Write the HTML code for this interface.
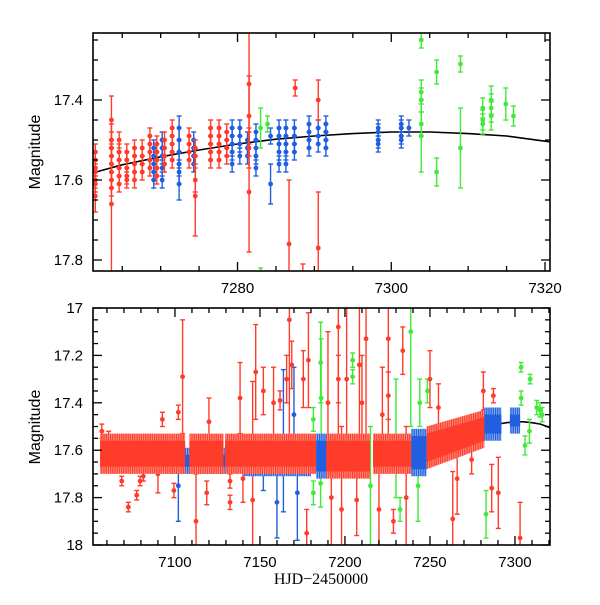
<!DOCTYPE html>
<html><head><meta charset="utf-8"><style>
html,body{margin:0;padding:0;background:#fff;}
svg text{font-family:"Liberation Sans",sans-serif;}
</style></head><body>
<svg id="chart" width="600" height="600" viewBox="0 0 600 600" xmlns="http://www.w3.org/2000/svg">
<defs>
<clipPath id="clipTop"><rect x="93" y="33" width="457" height="238"/></clipPath>
<clipPath id="clipBot"><rect x="93" y="308" width="457" height="237"/></clipPath>
<pattern id="stripeR" width="2.2" height="6" patternUnits="userSpaceOnUse"><rect width="2.2" height="6" fill="#ff8f80"/><rect x="0" width="1.2" height="6" fill="#ff3b2a"/></pattern>
<pattern id="stripeB" width="2.2" height="6" patternUnits="userSpaceOnUse"><rect width="2.2" height="6" fill="#8fb0f0"/><rect x="0" width="1.2" height="6" fill="#1f5fe0"/></pattern>
<pattern id="stripeG" width="2.2" height="6" patternUnits="userSpaceOnUse"><rect width="2.2" height="6" fill="#a0f59c"/><rect x="0" width="1.2" height="6" fill="#3fea38"/></pattern>
</defs>
<g id="topPanel"></g>
<g id="botPanel"></g>
<text x="40" y="152" transform="rotate(-90 40 152)" text-anchor="middle" font-size="16">Magnitude</text>
<text x="40" y="427" transform="rotate(-90 40 427)" text-anchor="middle" font-size="16">Magnitude</text>
<text x="321" y="584" text-anchor="middle" font-size="16" style="font-family:'Liberation Serif',serif">HJD−2450000</text>
</svg>
<script>
// ---- data ----
const COLORS = {r:"#ff3b2a", b:"#1f5fe0", g:"#3fea38"};
const STRIPES = {r:"url(#stripeR)", b:"url(#stripeB)", g:"url(#stripeG)"};
// Top panel clusters: [time, colour, magnitudes, error]
const topClusters = [
 [7261.5,"r",[17.53,17.55,17.57,17.58,17.60,17.61],0.02],
 [7263.6,"r",[17.50,17.52,17.54,17.56,17.58,17.60,17.62],0.02],
 [7264.6,"r",[17.50,17.53,17.55,17.57,17.59,17.61],0.02],
 [7265.6,"r",[17.53,17.55,17.57,17.59,17.60],0.02],
 [7266.6,"r",[17.52,17.54,17.56,17.58,17.60],0.02],
 [7267.6,"r",[17.52,17.54,17.56,17.58],0.02],
 [7268.6,"r",[17.49,17.51,17.53,17.55,17.57],0.02],
 [7269.1,"b",[17.52,17.54,17.56,17.58,17.60],0.02],
 [7269.5,"r",[17.51,17.53,17.55,17.57,17.59],0.02],
 [7270.2,"b",[17.50,17.52,17.54,17.57,17.60],0.02],
 [7270.5,"r",[17.50,17.52,17.54,17.56],0.02],
 [7271.5,"r",[17.47,17.49,17.51,17.53,17.55],0.02],
 [7272.4,"b",[17.47,17.50,17.53,17.56,17.58],0.03],
 [7273.7,"r",[17.49,17.51,17.53,17.55],0.02],
 [7274.3,"b",[17.50,17.52,17.54,17.56],0.02],
 [7274.5,"r",[17.52,17.54],0.02],
 [7276.5,"r",[17.47,17.49,17.51,17.53,17.55],0.02],
 [7277.6,"r",[17.47,17.49,17.51,17.53,17.55],0.02],
 [7278.6,"r",[17.48,17.50,17.52,17.54],0.02],
 [7279.3,"b",[17.47,17.49,17.51,17.53,17.56],0.02],
 [7280.3,"b",[17.47,17.49,17.51,17.54],0.02],
 [7281.3,"b",[17.50,17.52,17.54],0.02],
 [7282.4,"b",[17.48,17.50,17.52,17.54,17.57],0.02],
 [7284.3,"b",[17.49],0.02],
 [7285.4,"b",[17.47,17.49,17.51,17.53,17.56],0.02],
 [7286.3,"b",[17.47,17.49,17.51,17.53,17.56],0.02],
 [7287.4,"b",[17.47,17.49,17.51,17.53],0.02],
 [7289.3,"b",[17.46,17.48,17.50,17.52],0.02],
 [7290.5,"b",[17.47,17.49,17.51],0.02],
 [7291.5,"b",[17.46,17.48,17.50,17.52],0.02],
 [7298.3,"b",[17.47,17.48,17.50,17.51],0.02],
 [7301.3,"b",[17.46,17.47,17.49,17.50],0.02],
 [7302.3,"b",[17.47],0.02],
 [7311.9,"g",[17.42,17.45,17.46],0.025],
 [7313.0,"g",[17.40,17.42,17.44],0.035]
];
// Top panel single points
const topT = [7261.5,7263.6,7263.6,7274.5,7274.5,7281.5,7281.5,7281.5,7281.5,7287.5,7290.5,7290.5,7286.7,7288.5,7272.4,7284.3,7283.0,7283.0,7283.9,7303.9,7303.9,7303.9,7303.9,7303.9,7305.9,7305.9,7309.0,7309.0,7314.9,7315.9];
const topM = [17.64,17.45,17.66,17.60,17.64,17.36,17.44,17.52,17.63,17.37,17.40,17.77,17.76,17.86,17.61,17.61,17.47,17.87,17.46,17.25,17.38,17.40,17.46,17.49,17.33,17.58,17.31,17.52,17.41,17.44];
const topE = [0.04,0.06,0.20,0.03,0.10,0.15,0.10,0.05,0.15,0.02,0.05,0.14,0.16,0.05,0.04,0.05,0.05,0.05,0.02,0.02,0.03,0.03,0.03,0.09,0.03,0.035,0.02,0.10,0.04,0.025];
const topC = ["r","r","r","r","r","r","r","r","r","r","r","r","r","r","b","b","g","g","g","g","g","g","g","g","g","g","g","g","g","g"];

// Bottom panel dense bands: start, end, lo/hi at start, lo/hi at end, colour
const bandT0 = [7095,7140,7056,7108.5,7129.5,7183,7189,7216.5,7239,7248,7282,7297];
const bandT1 = [7130,7180,7106,7128.5,7183,7190,7214.7,7239.5,7248,7282,7292,7303];
const bandLo0 = [17.62,17.62,17.56,17.56,17.56,17.56,17.56,17.56,17.54,17.53,17.45,17.45];
const bandHi0 = [17.67,17.68,17.67,17.67,17.67,17.69,17.69,17.67,17.68,17.65,17.53,17.50];
const bandLo1 = [17.62,17.62,17.56,17.56,17.56,17.56,17.56,17.56,17.54,17.46,17.45,17.45];
const bandHi1 = [17.67,17.68,17.67,17.67,17.67,17.69,17.69,17.67,17.68,17.56,17.53,17.50];
const bandC = ["b","b","r","r","r","b","r","r","b","r","b","b"];

// Bottom panel individual points
const botT = [7057,7059,7061,7068.7,7072.6,7077.5,7079.5,7081.4,7092.6,7102,7104.5,7099.4,7102,7112.4,7118.7,7132.4,7132.4,7138.3,7145.7,7147.5,7152,7152,7161.8,7163.8,7165.7,7167.3,7168.7,7175.5,7177.5,7178.5,7185.7,7181.4,7185.7,7181.4,7196.1,7196.1,7201,7206.9,7208.5,7212.4,7204.5,7204.5,7225.5,7225.5,7238.7,7234,7228.5,7232.4,7250,7248.5,7263.4,7274.5,7281.4,7287.3,7286.3,7290.2,7283,7303,7303.6,7303.6,7305.9,7308.9,7308.5,7312.8,7314.7,7316,7192,7220,7243,7255,7170,7140,7160,7210,7230,7190,7198,7215,7222,7236,7158,7172,7186,7244,7266,7090,7120];
const botM = [17.52,17.59,17.55,17.73,17.84,17.79,17.73,17.71,17.47,17.44,17.29,17.77,17.75,17.90,17.78,17.73,17.82,17.38,17.81,17.27,17.35,17.70,17.39,17.56,17.30,17.05,17.24,17.30,17.95,17.22,17.23,17.78,17.74,17.47,17.08,17.30,17.30,17.81,17.24,17.13,17.22,17.29,17.13,17.37,17.10,17.18,17.90,17.85,17.30,17.35,17.89,17.64,17.35,17.37,17.76,17.78,17.87,17.97,17.25,17.38,17.58,17.30,17.52,17.42,17.43,17.45,17.80,17.85,17.75,17.42,17.45,17.72,17.82,17.40,17.55,17.40,17.85,17.75,17.45,17.80,17.40,17.78,17.38,17.40,17.72,17.70,17.48];
const botE = [0.03,0.03,0.03,0.02,0.02,0.02,0.02,0.02,0.03,0.03,0.24,0.03,0.15,0.20,0.05,0.03,0.03,0.15,0.50,0.20,0.10,0.07,0.04,0.30,0.10,0.50,0.10,0.12,0.10,0.20,0.17,0.05,0.10,0.05,0.50,0.10,0.40,0.15,0.40,0.45,0.03,0.03,0.50,0.10,0.40,0.10,0.05,0.05,0.12,0.05,0.20,0.06,0.08,0.03,0.10,0.15,0.10,0.15,0.02,0.03,0.04,0.02,0.05,0.03,0.03,0.03,0.25,0.20,0.15,0.10,0.20,0.10,0.15,0.20,0.25,0.30,0.35,0.25,0.20,0.30,0.15,0.20,0.25,0.10,0.15,0.08,0.10];
const botC = ["r","r","r","r","r","r","r","r","r","r","r","r","b","r","r","r","r","r","r","r","r","b","r","b","r","r","r","r","r","r","g","g","g","g","r","r","r","r","r","r","g","g","r","r","g","r","r","g","r","g","r","r","r","r","r","r","g","r","g","g","g","g","g","g","g","g","r","r","g","r","b","r","b","r","g","r","r","g","r","r","r","b","g","g","r","r","r"];

// Model curve
const curveT = [7261,7265,7270,7275,7280,7285,7290,7295,7300,7305,7310,7315,7320,7322];
const curveM = [17.583,17.562,17.542,17.525,17.510,17.498,17.490,17.484,17.480,17.480,17.484,17.490,17.503,17.508];

// tick arrays
const topXTicks = [7280,7300,7320];
const topYTicks = [17.4,17.6,17.8];
const botXTicks = [7100,7150,7200,7250,7300];
const botYTicks = [17,17.2,17.4,17.6,17.8,18];
const botYLabels = ["17","17.2","17.4","17.6","17.8","18"];

// ---- drawing ----
const NS = "http://www.w3.org/2000/svg";
function mk(tag, attrs, parent){const e=document.createElementNS(NS,tag);for(const k in attrs)e.setAttribute(k,attrs[k]);parent.appendChild(e);return e;}

function panel(g, box, xr, yr, clipId, xMinor, xMajor, yMinor, yMajor, xTicks, yTicks, yLabels, xLabelPrefix){
  const sx = t => box.x + (t - xr[0])/(xr[1]-xr[0])*box.w;
  const sy = m => box.y + (m - yr[0])/(yr[1]-yr[0])*box.h;
  const data = mk("g",{"clip-path":"url(#"+clipId+")"},g);
  
  
  const ax = mk("g",{stroke:"#000","stroke-width":"1.3"},g);
  
  
  const eps=1e-6;
  for(let t=Math.ceil(xr[0]/xMinor)*xMinor; t<=xr[1]; t+=xMinor){
    const maj = Math.abs(t/xMajor-Math.round(t/xMajor))<eps; const L = maj?9:5; const x=sx(t);
    mk("line",{x1:x,x2:x,y1:box.y+box.h,y2:box.y+box.h-L},ax);
    mk("line",{x1:x,x2:x,y1:box.y,y2:box.y+L},ax);
  }
  const n = Math.round((yr[1]-yr[0])/yMinor);
  const y0 = Math.ceil(yr[0]/yMinor-eps)*yMinor;
  for(let i=0;i<=n+1;i++){
    const m = y0 + i*yMinor; if(m>yr[1]+eps) break;
    const maj = Math.abs(m/yMajor-Math.round(m/yMajor))<1e-4; const L = maj?9:5; const y=sy(m);
    mk("line",{x1:box.x,x2:box.x+L,y1:y,y2:y},ax);
    mk("line",{x1:box.x+box.w,x2:box.x+box.w-L,y1:y,y2:y},ax);
  }
  xTicks.forEach(t=>{
    const tx = mk("text",{x:sx(t),y:box.y+box.h+22,"text-anchor":"middle","font-size":"15"},g);
    tx.textContent = t;
    
    
  });
  yTicks.forEach((m,i)=>{
    const tx = mk("text",{x:box.x-10,y:sy(m)+5,"text-anchor":"end","font-size":"15"},g);
    tx.textContent = yLabels[i];
    
    
  });
  const fr = mk("rect",{x:box.x,y:box.y,width:box.w,height:box.h,fill:"none",stroke:"#000","stroke-width":"1.6"},g);
  
  
  return {sx,sy,data};
}

function point(parent, sx, sy, t, m, e, c){
  const col = COLORS[c]; const x=sx(t);
  const g = mk("g",{stroke:col,"stroke-width":"1.4",fill:col},parent);
  
  
  const yt=sy(m-e), yb=sy(m+e), y=sy(m);
  mk("line",{x1:x,x2:x,y1:yt,y2:yb},g);
  mk("line",{x1:x-2.5,x2:x+2.5,y1:yt,y2:yt},g);
  mk("line",{x1:x-2.5,x2:x+2.5,y1:yb,y2:yb},g);
  mk("circle",{cx:x,cy:y,r:2.4,stroke:"none"},g);
}

function curve(parent, sx, sy){
  const d = curveT.map((t,i)=>(i?"L":"M")+sx(t).toFixed(1)+","+sy(curveM[i]).toFixed(1)).join(" ");
  const p = mk("path",{d,fill:"none",stroke:"#000","stroke-width":"1.6"},parent);
  
  
}

// top panel
const TP = panel(document.getElementById("topPanel"),{x:93,y:33,w:457,h:238},[7261.2,7320.65],[17.2325,17.8275],"clipTop",5,20,0.05,0.2,topXTicks,topYTicks,["17.4","17.6","17.8"],"top");
curve(TP.data, TP.sx, TP.sy);
topClusters.forEach(cl=>cl[2].forEach(m=>point(TP.data,TP.sx,TP.sy,cl[0],m,cl[3],cl[1])));
topT.forEach((t,i)=>point(TP.data,TP.sx,TP.sy,t,topM[i],topE[i],topC[i]));

// bottom panel
const BP = panel(document.getElementById("botPanel"),{x:93,y:308,w:457,h:237},[7051.8,7320.6],[17,18],"clipBot",10,50,0.05,0.2,botXTicks,botYTicks,botYLabels,"bottom");
curve(BP.data, BP.sx, BP.sy);
botT.forEach((t,i)=>{ if(botC[i]!=="r") point(BP.data,BP.sx,BP.sy,t,botM[i],botE[i],botC[i]); });
botT.forEach((t,i)=>{ if(botC[i]==="r") point(BP.data,BP.sx,BP.sy,t,botM[i],botE[i],botC[i]); });
bandT0.forEach((t0,i)=>{
  const t1=bandT1[i], col=COLORS[bandC[i]];
  const pts=[[t0,bandLo0[i]-0.03],[t1,bandLo1[i]-0.03],[t1,bandHi1[i]+0.03],[t0,bandHi0[i]+0.03]].map(p=>BP.sx(p[0]).toFixed(1)+","+BP.sy(p[1]).toFixed(1)).join(" ");
  const outer = mk("polygon",{points:pts,fill:STRIPES[bandC[i]]},BP.data);
  
  
  const pts2=[[t0,bandLo0[i]],[t1,bandLo1[i]],[t1,bandHi1[i]],[t0,bandHi0[i]]].map(p=>BP.sx(p[0]).toFixed(1)+","+BP.sy(p[1]).toFixed(1)).join(" ");
  const inner = mk("polygon",{points:pts2,fill:col},BP.data);
  
  
});
</script>
</body></html>
